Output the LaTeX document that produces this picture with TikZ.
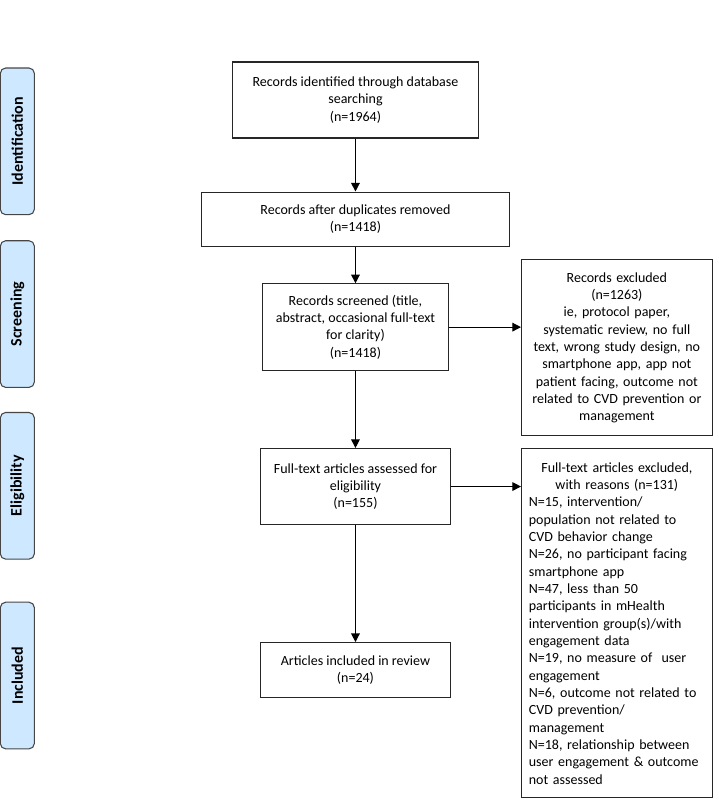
\documentclass[tikz,border=0pt]{standalone}
\usepackage{fontspec}
\setmainfont{Carlito}
\usetikzlibrary{positioning,arrows.meta}
\definecolor{bg1}{RGB}{206,233,255}
\definecolor{l1}{RGB}{70,70,70}

\begin{document}
\begin{tikzpicture}[
    font=\fontsize{10.5}{13}\selectfont,
    e/.style={
        draw=black!85, line width=0.8pt,
        align=center, inner sep=4pt
    },
    ex/.style={
        e, text width=132pt, inner xsep=5.5pt
    },
    st/.style={
        rounded corners=4pt, draw=l1, fill=bg1, line width=0.8pt,
        minimum width=25.5pt, minimum height=110pt, inner sep=0pt,
        font=\fontsize{12}{14}\selectfont\bfseries
    },
    l/.style={
        line width=0.9pt,
        -{Triangle[length=6.5pt,width=6.5pt]}
    }
]
\useasboundingbox (0,0) rectangle (538.5pt,-600pt);

% stages
\node [st] (ident) at (13pt,-106pt) {\rotatebox{90}{Identification}};
\node [st,below=18.75pt of ident] (scr) {\rotatebox{90}{Screening}};
\node [st,below=18pt of scr] (elig) {\rotatebox{90}{Eligibility}};
\node [st,below=31.5pt of elig] (incl) {\rotatebox{90}{Included}};

% main column
\node [e,minimum width=185pt,minimum height=57pt] (found) at (266.6pt,-75pt)
    {Records identified through database\\ searching\\ (n=1964)};
\node [e,minimum width=231pt,minimum height=41pt,below=39.75pt of found] (dedup)
    {Records after duplicates removed\\ (n=1418)};
\node [e,minimum width=139.5pt,minimum height=65pt,below=27pt of dedup] (screen)
    {Records screened (title,\\ abstract, occasional full-text\\ for clarity)\\ (n=1418)};
\node [e,minimum width=142.5pt,minimum height=57pt,below=57.75pt of screen] (full)
    {Full-text articles assessed for\\ eligibility\\ (n=155)};
\node [e,minimum width=142.5pt,minimum height=41pt,below=87.75pt of full] (incd)
    {Articles included in review\\ (n=24)};

% exclusions
\node [ex,minimum height=132pt,above right=18pt and 54pt of screen.north east,anchor=north west] (excl)
    {Records excluded\\ (n=1263)\\ ie, protocol paper,\\ systematic review, no full\\
     text, wrong study design, no\\ smartphone app, app not\\ patient facing, outcome not\\
     related to CVD prevention or\\ management};
\node [ex,align=left,minimum height=262pt,right=52.5pt of full.north east,anchor=north west] (exfull)
    {\hyphenpenalty=10000
     {\centering Full-text articles excluded,\\ with reasons (n=131)\par}
     N=15, intervention/\\ population not related to\\ CVD behavior change\\
     N=26, no participant facing\\ smartphone app\\
     N=47, less than 50\\ participants in mHealth\\ intervention group(s)/with\\ engagement data\\
     N=19, no measure of~~user\\ engagement\\
     N=6, outcome not related to\\ CVD prevention/\\ management\\
     N=18, relationship between\\ user engagement \&~outcome\\ not assessed};

\draw [l] (found) -- (dedup);
\draw [l] (dedup) -- (screen);
\draw [l] (screen) -- (full);
\draw [l] (full) -- (incd);
\draw [l] (screen.east) -- (screen.east -| excl.west);
\draw [l] (full.east) -- (full.east -| exfull.west);

\end{tikzpicture}
\end{document}
